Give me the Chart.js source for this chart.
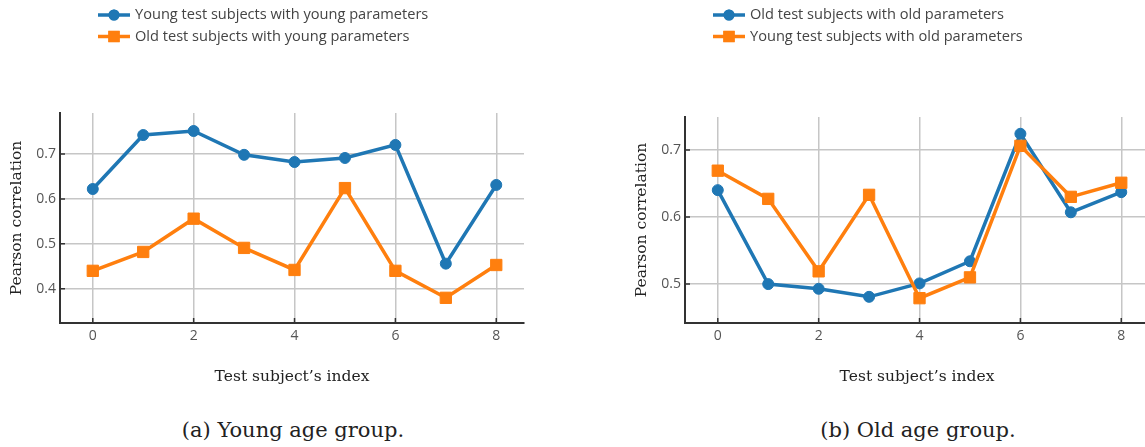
<!DOCTYPE html>
<html>
<head>
<meta charset="utf-8">
<script src="https://cdn.jsdelivr.net/npm/chart.js@4.4.1/dist/chart.umd.min.js"></script>
<style>
  html, body { margin: 0; padding: 0; background: #fff; overflow: hidden; width: 1145px; height: 447px; }
  .panel { position: absolute; top: 0; }
  .caption {
    position: absolute; top: 417px; width: 400px; text-align: center;
    font-family: "DejaVu Serif", "Liberation Serif", serif; font-size: 21px; line-height: 26px; color: #222;
  }
</style>
</head>
<body>
<div class="panel" style="left:0"><canvas id="young" width="560" height="393"></canvas></div>
<div class="panel" style="left:625px"><canvas id="old" width="560" height="393"></canvas></div>
<div class="caption" style="left:93px">(a) Young age group.</div>
<div class="caption" style="left:718px">(b) Old age group.</div>
<script>
// Test subject indices and tick positions
const subjectIndex = [0, 1, 2, 3, 4, 5, 6, 7, 8];
const xTicks = [0, 2, 4, 6, 8];

// Pearson correlation per test subject
const youngWithYoung = [0.622, 0.742, 0.751, 0.698, 0.682, 0.691, 0.720, 0.456, 0.631];
const oldWithYoung   = [0.440, 0.482, 0.556, 0.491, 0.442, 0.624, 0.440, 0.380, 0.453];
const oldWithOld     = [0.640, 0.500, 0.493, 0.481, 0.501, 0.534, 0.724, 0.607, 0.637];
const youngWithOld   = [0.669, 0.627, 0.519, 0.633, 0.479, 0.510, 0.706, 0.630, 0.651];

const youngYTicks = [0.4, 0.5, 0.6, 0.7];
const oldYTicks = [0.5, 0.6, 0.7];

const labelsYoung = ['Young test subjects with young parameters', 'Old test subjects with young parameters'];
const labelsOld = ['Old test subjects with old parameters', 'Young test subjects with old parameters'];

const BLUE = '#1f77b4';
const ORANGE = '#ff7f0e';
const SANS = "'Open Sans', 'Noto Sans', sans-serif";
const SERIF = "'DejaVu Serif', 'Liberation Serif', serif";

const points = vals => subjectIndex.map((x, i) => ({ x, y: vals[i] }));

function series(label, vals, color, style, order) {
  return {
    label, data: points(vals), order,
    borderColor: color, backgroundColor: color,
    borderWidth: 3.5, pointStyle: style,
    pointRadius: style === 'rect' ? 8 : 5.5,
    pointBorderWidth: 1, pointBorderColor: color, pointBackgroundColor: color,
    tension: 0
  };
}

// Small tick marks drawn inward from the spines
const inwardTicks = {
  id: 'inwardTicks',
  beforeDatasetsDraw(chart) {
    const { ctx, chartArea: a, scales: { x, y } } = chart;
    ctx.save();
    ctx.strokeStyle = '#333';
    ctx.lineWidth = 1.5;
    ctx.beginPath();
    x.ticks.forEach(t => { const px = x.getPixelForValue(t.value); ctx.moveTo(px, a.bottom); ctx.lineTo(px, a.bottom - 5); });
    y.ticks.forEach(t => { const py = y.getPixelForValue(t.value); ctx.moveTo(a.left, py); ctx.lineTo(a.left + 5, py); });
    ctx.stroke();
    ctx.restore();
  }
};

// Legend with a line segment and marker for each series
const lineLegend = {
  id: 'lineLegend',
  afterDraw(chart, args, opts) {
    const { ctx } = chart;
    ctx.save();
    chart.data.datasets.forEach((ds, i) => {
      const y = opts.top + i * opts.gap;
      const x0 = opts.left, x1 = opts.left + 32, xm = (x0 + x1) / 2;
      ctx.strokeStyle = ds.borderColor;
      ctx.lineWidth = 3.5;
      ctx.beginPath(); ctx.moveTo(x0, y); ctx.lineTo(x1, y); ctx.stroke();
      ctx.fillStyle = ds.borderColor;
      Chart.helpers.drawPoint(ctx, { pointStyle: ds.pointStyle, radius: ds.pointRadius, borderWidth: 0 }, xm, y);
      ctx.fill();
      ctx.fillStyle = '#444';
      ctx.font = `14.6px ${SANS}`;
      ctx.textBaseline = 'middle';
      ctx.fillText(ds.label, x1 + 5, y);
    });
    ctx.restore();
  }
};

function makeChart(id, datasets, yTicks, yMin, yMax, padTop, legendLeft) {
  return new Chart(document.getElementById(id), {
    type: 'line',
    data: { datasets },
    plugins: [inwardTicks, lineLegend],
    options: {
      responsive: false,
      animation: false,
      layout: { padding: { top: padTop, right: 36, bottom: 0, left: 0 } },
      plugins: {
        legend: { display: false },
        tooltip: { enabled: false },
        lineLegend: { left: legendLeft, top: 15, gap: 21.5 }
      },
      scales: {
        x: {
          type: 'linear', min: -0.65, max: 8.55,
          afterBuildTicks: s => { s.ticks = xTicks.map(v => ({ value: v })); },
          afterFit: s => { s.height = 70; },
          grid: { color: '#c6c6c6', lineWidth: 1.5, drawTicks: false },
          border: { color: '#333', width: 2 },
          ticks: { color: '#555', font: { family: SANS, size: 14 }, padding: 5, callback: v => String(v) },
          title: { display: true, text: 'Test subject\u2019s index', color: '#222', font: { family: SERIF, size: 15.5 }, padding: { top: 0, bottom: 7 } }
        },
        y: {
          type: 'linear', min: yMin, max: yMax,
          afterBuildTicks: s => { s.ticks = yTicks.map(v => ({ value: v })); },
          afterFit: s => { s.width = 60; },
          grid: { color: '#c6c6c6', lineWidth: 1.5, drawTicks: false },
          border: { color: '#333', width: 2 },
          ticks: { color: '#555', font: { family: SANS, size: 14 }, padding: 4, callback: v => v.toFixed(1) },
          title: { display: true, text: 'Pearson correlation', color: '#222', font: { family: SERIF, size: 15.5 }, padding: { top: 8, bottom: 0 } }
        }
      }
    }
  });
}

makeChart('young', [
  series(labelsYoung[0], youngWithYoung, BLUE, 'circle', 1),
  series(labelsYoung[1], oldWithYoung, ORANGE, 'rect', 0)
], youngYTicks, 0.324, 0.791, 113, 98);

makeChart('old', [
  series(labelsOld[0], oldWithOld, BLUE, 'circle', 1),
  series(labelsOld[1], youngWithOld, ORANGE, 'rect', 0)
], oldYTicks, 0.442, 0.749, 117, 88);
</script>
</body>
</html>
